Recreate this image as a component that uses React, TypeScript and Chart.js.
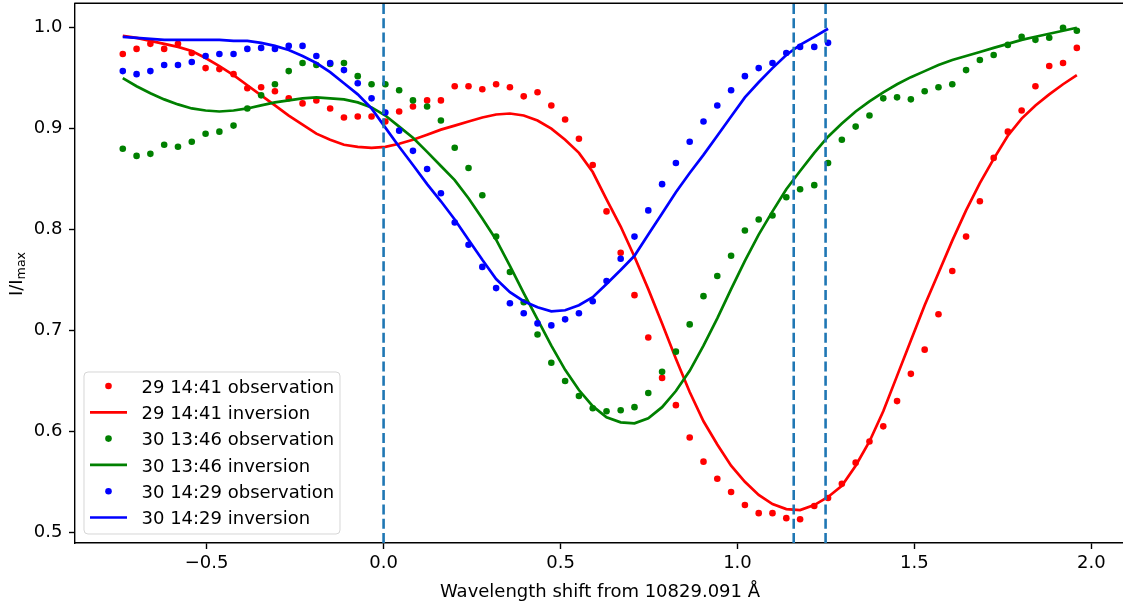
import React, { useEffect, useRef } from "react";
import { Chart, registerables } from "chart.js";

Chart.register(...registerables);

// ---------------- data ----------------
const X_VALUES = [
  -0.737, -0.698, -0.659, -0.62, -0.581, -0.542, -0.503, -0.464, -0.424, -0.385,
  -0.346, -0.307, -0.268, -0.229, -0.19, -0.151, -0.112, -0.073, -0.034, 0.005,
  0.044, 0.083, 0.123, 0.162, 0.201, 0.24, 0.279, 0.318, 0.357, 0.396,
  0.435, 0.474, 0.513, 0.552, 0.591, 0.63, 0.67, 0.709, 0.748, 0.787,
  0.826, 0.865, 0.904, 0.943, 0.982, 1.021, 1.06, 1.099, 1.138, 1.177,
  1.217, 1.256, 1.295, 1.334, 1.373, 1.412, 1.451, 1.49, 1.529, 1.568,
  1.607, 1.646, 1.685, 1.724, 1.764, 1.803, 1.842, 1.881, 1.92, 1.959,
];

const RED_OBS = [
  0.974, 0.979, 0.984, 0.979, 0.984, 0.975, 0.96, 0.959, 0.954, 0.94,
  0.941, 0.937, 0.93, 0.925, 0.928, 0.92, 0.911, 0.912, 0.912, 0.907,
  0.917, 0.922, 0.928, 0.928, 0.942, 0.942, 0.939, 0.944, 0.941, 0.932,
  0.936, 0.923, 0.909, 0.89, 0.864, 0.818, 0.777, 0.735, 0.693, 0.653,
  0.626, 0.594, 0.57, 0.553, 0.54, 0.527, 0.519, 0.519, 0.514, 0.513,
  0.526, 0.534, 0.548, 0.569, 0.59, 0.605, 0.63, 0.657, 0.681, 0.716,
  0.759, 0.793, 0.828, 0.871, 0.897, 0.918, 0.942, 0.962, 0.965, 0.98,
];

const RED_INV = [
  0.992, 0.99, 0.987, 0.984, 0.981, 0.977, 0.97, 0.962, 0.953, 0.943,
  0.933, 0.923, 0.913, 0.904, 0.895, 0.889, 0.884, 0.882, 0.881, 0.882,
  0.885, 0.889, 0.894, 0.899, 0.903, 0.907, 0.911, 0.914, 0.915, 0.913,
  0.908, 0.9, 0.889, 0.876, 0.857, 0.83, 0.803, 0.773, 0.741, 0.707,
  0.672, 0.639, 0.61, 0.587, 0.566, 0.55, 0.537, 0.528, 0.523, 0.522,
  0.527, 0.535, 0.546, 0.566, 0.59, 0.62, 0.655, 0.69, 0.725, 0.757,
  0.789, 0.819, 0.846, 0.87, 0.893, 0.91, 0.923, 0.934, 0.944, 0.953,
];

const GREEN_OBS = [
  0.88, 0.873, 0.875, 0.884, 0.882, 0.887, 0.895, 0.897, 0.903, 0.92,
  0.933, 0.944, 0.957, 0.965, 0.963, 0.964, 0.965, 0.952, 0.944, 0.944,
  0.938, 0.928, 0.922, 0.908, 0.881, 0.861, 0.834, 0.793, 0.758, 0.728,
  0.696, 0.668, 0.65, 0.635, 0.623, 0.62, 0.621, 0.624, 0.638, 0.659,
  0.679, 0.706, 0.734, 0.754, 0.774, 0.799, 0.81, 0.814, 0.832, 0.84,
  0.844, 0.866, 0.889, 0.902, 0.913, 0.93, 0.931, 0.929, 0.937, 0.941,
  0.944, 0.958, 0.968, 0.973, 0.983, 0.991, 0.988, 0.99, 1.0, 0.997,
];

const GREEN_INV = [
  0.95, 0.942, 0.935, 0.929, 0.924, 0.92, 0.918, 0.917, 0.918, 0.92,
  0.923, 0.926, 0.928, 0.93, 0.931, 0.93, 0.929, 0.926, 0.921, 0.913,
  0.902, 0.891, 0.877, 0.863, 0.849, 0.831, 0.811, 0.79, 0.764, 0.737,
  0.711, 0.685, 0.661, 0.641, 0.625, 0.614, 0.609, 0.608, 0.613, 0.624,
  0.64, 0.66, 0.685, 0.712, 0.741, 0.769, 0.795, 0.818, 0.84, 0.858,
  0.876, 0.892, 0.905, 0.917, 0.927, 0.936, 0.944, 0.951, 0.957, 0.963,
  0.968, 0.972, 0.976, 0.98, 0.984, 0.988, 0.991, 0.994, 0.997, 1.0,
];

const BLUE_OBS = [
  0.957, 0.954, 0.957, 0.963, 0.963, 0.966, 0.972, 0.974, 0.974, 0.979,
  0.98, 0.979, 0.982, 0.982, 0.972, 0.965, 0.958, 0.945, 0.93, 0.916,
  0.898, 0.878, 0.86, 0.836, 0.807, 0.785, 0.763, 0.742, 0.727, 0.717,
  0.707, 0.705, 0.711, 0.717, 0.729, 0.749, 0.771, 0.793, 0.819, 0.845,
  0.866, 0.887, 0.907, 0.923, 0.938, 0.952, 0.96, 0.965, 0.975, 0.981,
  0.981, 0.985,
];

const BLUE_INV = [
  0.991, 0.99, 0.989, 0.988, 0.988, 0.988, 0.988, 0.988, 0.987, 0.987,
  0.985, 0.982, 0.978, 0.972, 0.965, 0.956, 0.945, 0.934, 0.92, 0.901,
  0.882, 0.864, 0.845, 0.828, 0.81, 0.79, 0.77, 0.751, 0.738, 0.729,
  0.723, 0.719, 0.72, 0.725, 0.733, 0.746, 0.76, 0.774, 0.795, 0.816,
  0.837, 0.856, 0.874, 0.893, 0.912, 0.931, 0.946, 0.96, 0.973, 0.983,
  0.991, 0.999,
];

const SERIES_LABELS = [
  "29 14:41 observation",
  "29 14:41 inversion",
  "30 13:46 observation",
  "30 13:46 inversion",
  "30 14:29 observation",
  "30 14:29 inversion",
];
const SERIES_COLORS = ["#ff0000", "#ff0000", "#008000", "#008000", "#0000ff", "#0000ff"];

const DASHED_X = [0, 1.159, 1.249];
const X_TICKS = [-0.5, 0, 0.5, 1.0, 1.5, 2.0];
const Y_TICKS = [0.5, 0.6, 0.7, 0.8, 0.9, 1.0];
const X_TITLE = "Wavelength shift from 10829.091 Å";
const Y_TITLE_MAIN = "I/I";
const Y_TITLE_SUB = "max";

// ---------------- styling ----------------
const FONT = '"DejaVu Sans", sans-serif';
const FONT_SIZE = 18;
const CANVAS_W = 1200;
const CANVAS_H = 605;
const AREA_RIGHT = 1160;
const X_MIN = -0.872;
const X_MAX = 2.194;

function pts(ys: number[]) {
  return ys.map((y, i) => ({ x: X_VALUES[i], y }));
}

const decorPlugin = {
  id: "decor",
  afterDatasetsDraw(chart: any) {
    const { ctx, chartArea: a, scales } = chart;
    ctx.save();
    ctx.beginPath();
    ctx.rect(a.left, a.top, a.right - a.left, a.bottom - a.top);
    ctx.clip();
    ctx.strokeStyle = "#1f77b4";
    ctx.lineWidth = 2.6;
    ctx.setLineDash([10, 4.3]);
    for (const v of DASHED_X) {
      const px = scales.x.getPixelForValue(v);
      ctx.beginPath();
      ctx.moveTo(px, a.bottom);
      ctx.lineTo(px, a.top);
      ctx.stroke();
    }
    ctx.restore();
  },
  afterDraw(chart: any) {
    const { ctx, chartArea: a } = chart;
    ctx.save();
    // top spine
    ctx.strokeStyle = "#000";
    ctx.lineWidth = 1.4;
    ctx.beginPath();
    ctx.moveTo(a.left - 0.7, a.top);
    ctx.lineTo(a.right, a.top);
    ctx.stroke();

    // x title
    ctx.fillStyle = "#000";
    ctx.font = `${FONT_SIZE}px ${FONT}`;
    ctx.textAlign = "center";
    ctx.textBaseline = "alphabetic";
    ctx.fillText(X_TITLE, 600, 597);

    // y title with subscript
    ctx.save();
    ctx.translate(22.4, 274);
    ctx.rotate(-Math.PI / 2);
    ctx.font = `${FONT_SIZE}px ${FONT}`;
    const w1 = ctx.measureText(Y_TITLE_MAIN).width;
    ctx.font = `${FONT_SIZE * 0.7}px ${FONT}`;
    const w2 = ctx.measureText(Y_TITLE_SUB).width;
    const start = -(w1 + w2) / 2;
    ctx.textAlign = "left";
    ctx.font = `${FONT_SIZE}px ${FONT}`;
    ctx.fillText(Y_TITLE_MAIN, start, 0);
    ctx.font = `${FONT_SIZE * 0.7}px ${FONT}`;
    ctx.fillText(Y_TITLE_SUB, start + w1, 2.5);
    ctx.restore();

    // legend
    const lx = 84, ly = 372, lw = 256, lh = 162, r = 4;
    ctx.beginPath();
    ctx.moveTo(lx + r, ly);
    ctx.lineTo(lx + lw - r, ly);
    ctx.quadraticCurveTo(lx + lw, ly, lx + lw, ly + r);
    ctx.lineTo(lx + lw, ly + lh - r);
    ctx.quadraticCurveTo(lx + lw, ly + lh, lx + lw - r, ly + lh);
    ctx.lineTo(lx + r, ly + lh);
    ctx.quadraticCurveTo(lx, ly + lh, lx, ly + lh - r);
    ctx.lineTo(lx, ly + r);
    ctx.quadraticCurveTo(lx, ly, lx + r, ly);
    ctx.closePath();
    ctx.fillStyle = "rgba(255,255,255,0.8)";
    ctx.fill();
    ctx.strokeStyle = "rgba(204,204,204,0.8)";
    ctx.lineWidth = 1;
    ctx.stroke();

    ctx.font = `${FONT_SIZE}px ${FONT}`;
    ctx.textAlign = "left";
    ctx.textBaseline = "alphabetic";
    SERIES_LABELS.forEach((label, i) => {
      const cy = 386 + i * 26.3;
      const color = SERIES_COLORS[i];
      if (i % 2 === 0) {
        ctx.fillStyle = color;
        ctx.beginPath();
        ctx.arc(108.5, cy, 3.3, 0, Math.PI * 2);
        ctx.fill();
      } else {
        ctx.strokeStyle = color;
        ctx.lineWidth = 2.7;
        ctx.beginPath();
        ctx.moveTo(90, cy);
        ctx.lineTo(127, cy);
        ctx.stroke();
      }
      ctx.fillStyle = "#000";
      ctx.fillText(label, 141.5, cy + 6.6);
    });
    ctx.restore();
  },
};

export default function App() {
  const ref = useRef<HTMLCanvasElement | null>(null);

  useEffect(() => {
    if (!ref.current) return;
    const obs = (data: number[], color: string, order: number) => ({
      label: "",
      data: pts(data),
      showLine: false,
      pointRadius: 3.3,
      pointHoverRadius: 3.3,
      pointBorderWidth: 0,
      pointBackgroundColor: color,
      borderColor: color,
      backgroundColor: color,
      order,
    });
    const inv = (data: number[], color: string, order: number) => ({
      label: "",
      data: pts(data),
      showLine: true,
      pointRadius: 0,
      borderWidth: 2.7,
      borderColor: color,
      backgroundColor: color,
      tension: 0,
      fill: false,
      order,
    });

    const chart = new Chart(ref.current, {
      type: "line",
      data: {
        datasets: [
          obs(RED_OBS, SERIES_COLORS[0], 10),
          inv(RED_INV, SERIES_COLORS[1], 9),
          obs(GREEN_OBS, SERIES_COLORS[2], 8),
          inv(GREEN_INV, SERIES_COLORS[3], 7),
          obs(BLUE_OBS, SERIES_COLORS[4], 6),
          inv(BLUE_INV, SERIES_COLORS[5], 5),
        ] as any,
      },
      options: {
        responsive: false,
        animation: false,
        devicePixelRatio: 1,
        layout: { padding: { left: 0, top: 1.5, right: CANVAS_W - AREA_RIGHT, bottom: 0 } },
        plugins: { legend: { display: false }, tooltip: { enabled: false } },
        events: [],
        scales: {
          x: {
            type: "linear",
            min: X_MIN,
            max: X_MAX,
            grid: {
              display: true,
              drawOnChartArea: false,
              drawTicks: true,
              tickLength: 6,
              tickWidth: 1.4,
              tickColor: "#000",
            },
            border: { display: true, color: "#000", width: 1.4 },
            ticks: {
              color: "#000",
              font: { family: FONT, size: FONT_SIZE },
              padding: 3.5,
              maxRotation: 0,
              autoSkip: false,
              callback: (v: any) => {
                const n = Number(v);
                return n < 0 ? "\u2212" + Math.abs(n).toFixed(1) : n.toFixed(1);
              },
            },
            afterBuildTicks: (s: any) => {
              s.ticks = X_TICKS.map((value) => ({ value }));
            },
            afterFit: (s: any) => {
              s.height = 62;
              s.paddingLeft = 0;
              s.paddingRight = 0;
            },
          },
          y: {
            type: "linear",
            min: 0.4894,
            max: 1.0242,
            grid: {
              display: true,
              drawOnChartArea: false,
              drawTicks: true,
              tickLength: 6,
              tickWidth: 1.4,
              tickColor: "#000",
            },
            border: { display: true, color: "#000", width: 1.4 },
            ticks: {
              color: "#000",
              font: { family: FONT, size: FONT_SIZE },
              padding: 6.5,
              autoSkip: false,
              callback: (v: any) => Number(v).toFixed(1),
            },
            afterBuildTicks: (s: any) => {
              s.ticks = Y_TICKS.map((value) => ({ value }));
            },
            afterFit: (s: any) => {
              s.width = 75;
              s.paddingTop = 0;
              s.paddingBottom = 0;
            },
          },
        },
      } as any,
      plugins: [decorPlugin],
    });
    return () => chart.destroy();
  }, []);

  return (
    <div
      style={{
        position: "fixed",
        left: 0,
        top: 0,
        width: 1123,
        height: 605,
        overflow: "hidden",
        background: "#fff",
      }}
    >
      <canvas
        ref={ref}
        width={CANVAS_W}
        height={CANVAS_H}
        style={{ display: "block", width: CANVAS_W, height: CANVAS_H }}
      />
    </div>
  );
}
